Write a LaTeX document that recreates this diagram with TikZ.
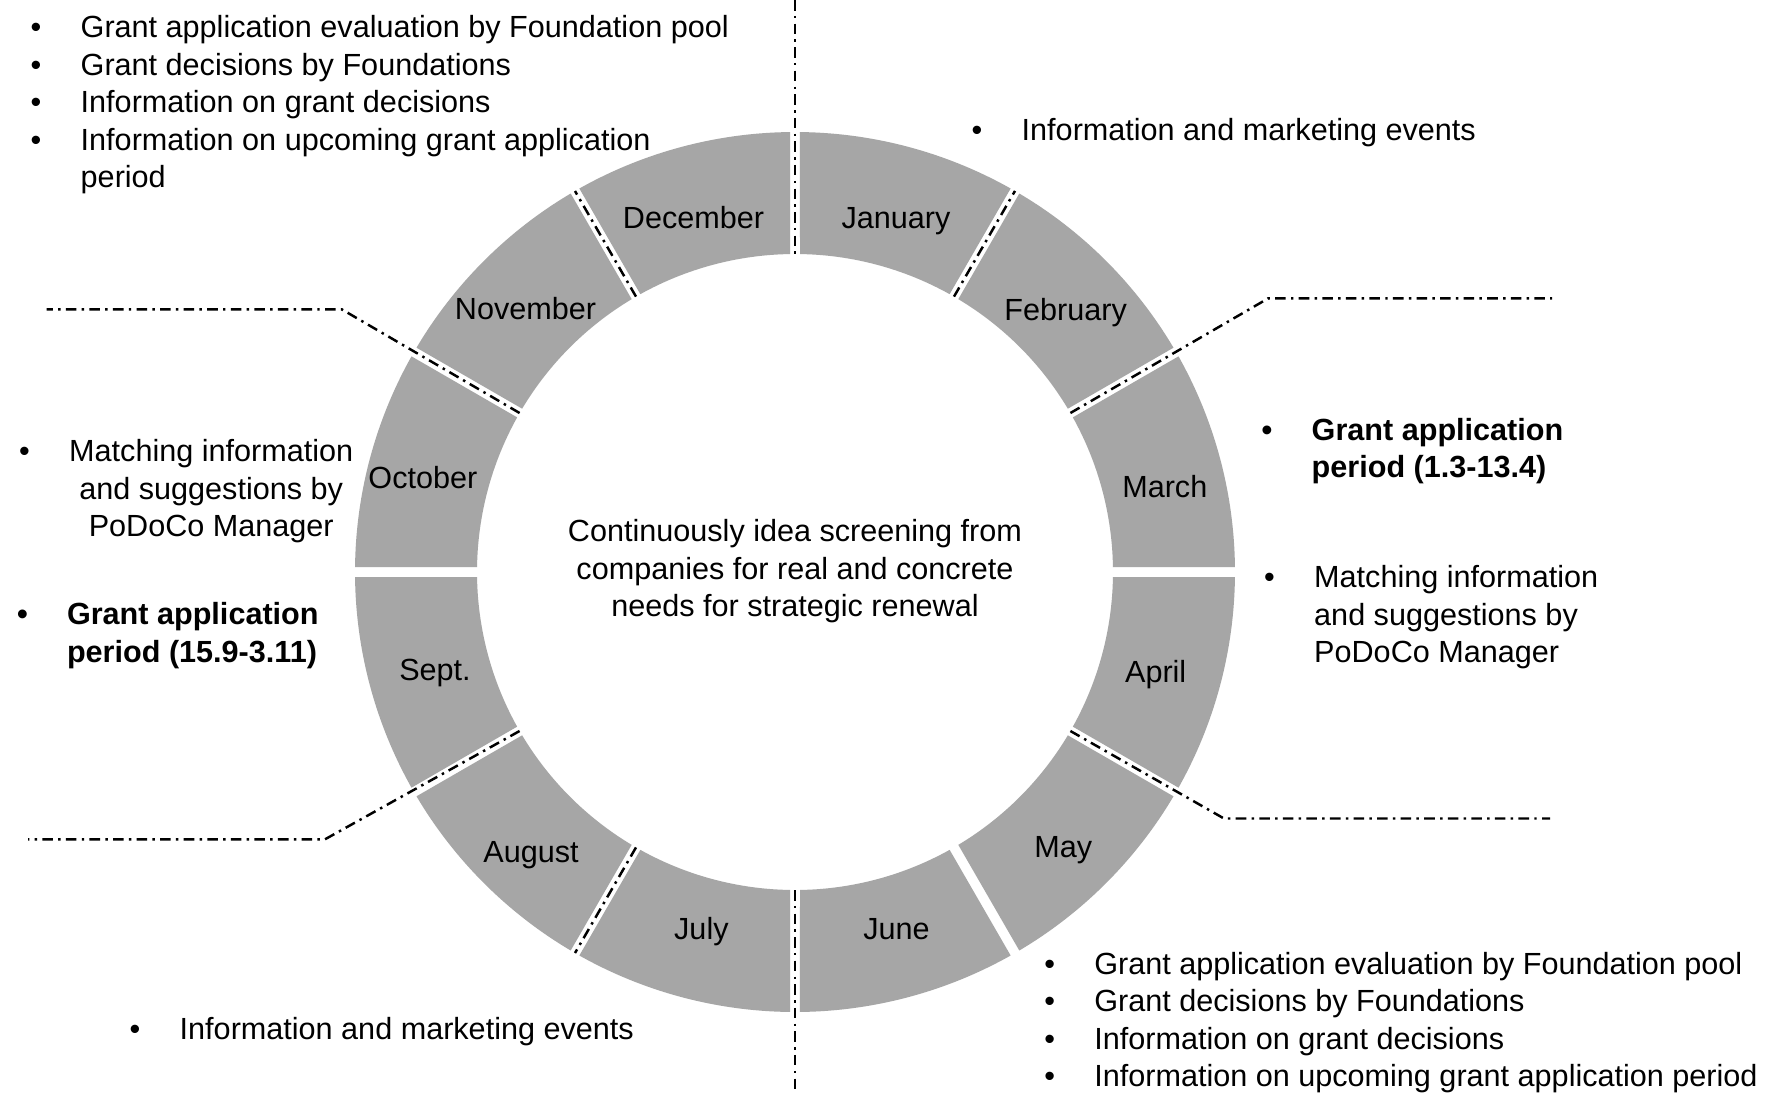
\documentclass[tikz,border=0pt]{standalone}
\usepackage{fontspec}
\setmainfont{Liberation Sans}
\definecolor{ringgray}{RGB}{166,166,166}
\newcommand{\blt}{\makebox[0.5cm][l]{\textbullet}}
\begin{document}
\begin{tikzpicture}[x=0.01cm, y=-0.01cm,
  seg/.style={fill=ringgray, draw=none},
  sep/.style={line width=0.7pt, dash pattern=on 3pt off 1.5pt on 0.7pt off 1.5pt},
  month/.style={font=\fontsize{8.7}{10.67}\selectfont, inner sep=0pt, anchor=base},
  blk/.style={font=\fontsize{8.7}{10.67}\selectfont, inner sep=0pt, anchor=base west},
  bblk/.style={blk, font=\fontsize{8.7}{10.67}\selectfont\bfseries},
]
\fill[white] (0,0) rectangle (1768,1093);
\useasboundingbox (0,0) rectangle (1768,1093);

% ring segments (screen angles a..b)
\begin{scope}[shift={(795,572)}]
\foreach \a/\b/\nm in {60/90/jan, 30/60/feb, 0/30/mar, -30/0/apr, -60/-30/may, -90/-60/jun,
  -120/-90/jul, -150/-120/aug, -180/-150/sep, 150/180/oct, 120/150/nov, 90/120/dec}{
  \pgfmathsetmacro\sai{-(\a)-0.901}
  \pgfmathsetmacro\sao{-(\a)-0.651}
  \pgfmathsetmacro\ebo{-(\b)+0.651}
  \pgfmathsetmacro\ebi{-(\b)+0.901}
  \fill[seg] (\sai:318) -- (\sao:440) arc[start angle=\sao, end angle=\ebo, radius=440]
    -- (\ebi:318) arc[start angle=\ebi, end angle=\sai, radius=318] -- cycle;
}
\end{scope}

% month labels
\node[month] (jan) at (896,228) {January};
\node[month] (feb) at (1065.6,320.5) {February};
\node[month] (mar) at (1164.8,497.5) {March};
\node[month] (apr) at (1155.7,682.5) {April};
\node[month] (may) at (1063.3,857.2) {May};
\node[month] (jun) at (896.5,939.5) {June};
\node[month] (jul) at (701.4,939.5) {July};
\node[month] (aug) at (531,862.5) {August};
\node[month] (sep) at (435,680.2) {Sept.};
\node[month] (oct) at (422.9,488.5) {October};
\node[month] (nov) at (525.5,319.3) {November};
\node[month] (dec) at (693.5,228) {December};

% centre text
\node[month] (centre) at (795,541.5) {\begin{tabular}[t]{@{}c@{}}Continuously idea screening from\\companies for real and concrete\\needs for strategic renewal\end{tabular}};

% separator lines
\coordinate (s90a) at (795,0);    \coordinate (s90b) at (795,254);
\coordinate (s60a) at (954,296.6);  \coordinate (s60b) at (1015,190.9);
\coordinate (s30a) at (1070.4,413); \coordinate (s30k) at (1268.3,298.3); \coordinate (s30e) at (1552,298.3);
\coordinate (sm30a) at (1070.4,731); \coordinate (sm30k) at (1224,818.5); \coordinate (sm30e) at (1550,818.5);
\coordinate (sm90a) at (795,890);  \coordinate (sm90b) at (795,1093);
\coordinate (sm120a) at (636,847.4); \coordinate (sm120b) at (575,953);
\coordinate (sm150a) at (519.6,731); \coordinate (sm150k) at (325,839.3); \coordinate (sm150e) at (28,839.3);
\coordinate (s150a) at (519.6,413); \coordinate (s150k) at (341.7,309.3); \coordinate (s150e) at (46.7,309.3);
\coordinate (s120a) at (636,296.6); \coordinate (s120b) at (575,191);

\draw[sep] (s90a) -- (s90b);
\draw[sep] (s60a) -- (s60b);
\draw[sep] (s30a) -- (s30k) -- (s30e);
\draw[sep] (sm30a) -- (sm30k) -- (sm30e);
\draw[sep] (sm90a) -- (sm90b);
\draw[sep] (sm120a) -- (sm120b);
\draw[sep] (sm150a) -- (sm150k) -- (sm150e);
\draw[sep] (s150a) -- (s150k) -- (s150e);
\draw[sep] (s120a) -- (s120b);

% text blocks
\node[blk] (tl) at (30,37.8) {\begin{tabular}[t]{@{}l@{}l@{}}
\blt & Grant application evaluation by Foundation pool\\
\blt & Grant decisions by Foundations\\
\blt & Information on grant decisions\\
\blt & Information on upcoming grant application\\
 & period\end{tabular}};

\node[blk] (tr) at (971,140) {\begin{tabular}[t]{@{}l@{}l@{}}
\blt & Information and marketing events\end{tabular}};

\node[bblk] (rb) at (1261,440) {\begin{tabular}[t]{@{}l@{}l@{}}
\blt & Grant application\\
 & period (1.3-13.4)\end{tabular}};

\node[blk] (rn) at (1263.5,587.5) {\begin{tabular}[t]{@{}l@{}l@{}}
\blt & Matching information\\
 & and suggestions by\\
 & PoDoCo Manager\end{tabular}};

\node[blk] (ln) at (18.5,461.5) {\begin{tabular}[t]{@{}l@{}c@{}}
\blt & Matching information\\
 & and suggestions by\\
 & PoDoCo Manager\end{tabular}};

\node[bblk] (lb) at (16.3,624.9) {\begin{tabular}[t]{@{}l@{}l@{}}
\blt & Grant application\\
 & period (15.9-3.11)\end{tabular}};

\node[blk] (bl) at (129,1039.5) {\begin{tabular}[t]{@{}l@{}l@{}}
\blt & Information and marketing events\end{tabular}};

\node[blk] (br) at (1043.6,974) {\begin{tabular}[t]{@{}l@{}l@{}}
\blt & Grant application evaluation by Foundation pool\\
\blt & Grant decisions by Foundations\\
\blt & Information on grant decisions\\
\blt & Information on upcoming grant application period\end{tabular}};
\end{tikzpicture}
\end{document}
